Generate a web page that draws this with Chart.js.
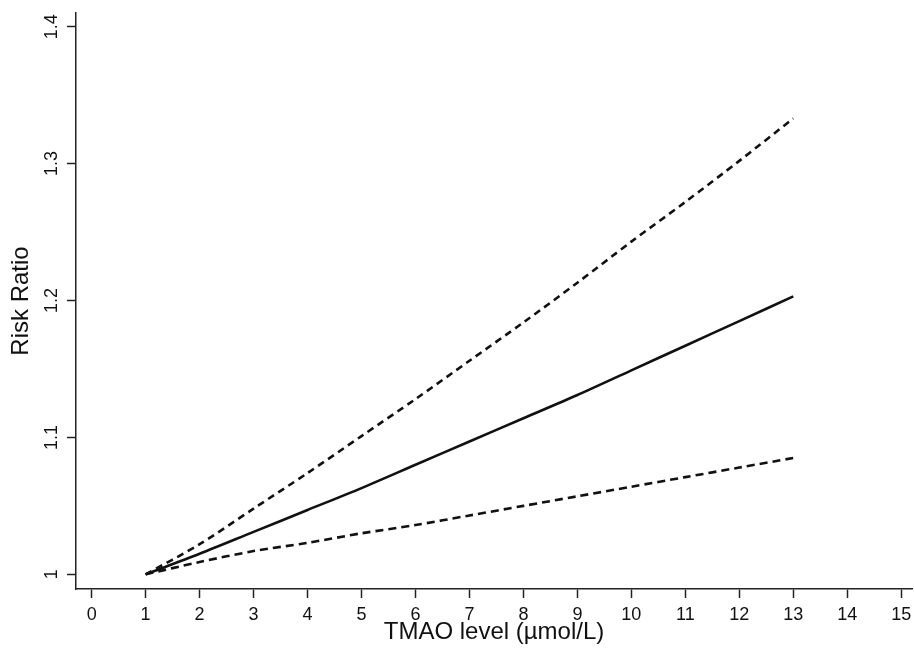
<!DOCTYPE html>
<html>
<head>
<meta charset="utf-8">
<script src="https://cdn.jsdelivr.net/npm/chart.js@4/dist/chart.umd.min.js"></script>
<style>
  html, body { margin: 0; padding: 0; background: #fff; }
  #wrap { width: 914px; height: 652px; position: relative; }
</style>
</head>
<body>
<div id="wrap"><canvas id="rrChart"></canvas></div>
<script>
// TMAO level (umol/L) vs risk ratio with 95% CI
const tmao = [1, 2, 3, 4, 5, 6, 7, 8, 9, 10, 11, 12, 13];
const riskRatio = [1.000, 1.015, 1.031, 1.047, 1.063, 1.080, 1.097, 1.114, 1.131, 1.149, 1.167, 1.185, 1.203];
const upperCI = [1.000, 1.022, 1.048, 1.074, 1.101, 1.128, 1.156, 1.184, 1.213, 1.243, 1.272, 1.302, 1.333];
const lowerCI = [1.000, 1.009, 1.017, 1.023, 1.030, 1.036, 1.043, 1.050, 1.057, 1.064, 1.071, 1.078, 1.085];

const xTicks = [0, 1, 2, 3, 4, 5, 6, 7, 8, 9, 10, 11, 12, 13, 14, 15];
const yTicks = [1, 1.1, 1.2, 1.3, 1.4];
const yTickLabels = ['1', '1.1', '1.2', '1.3', '1.4'];

const toPoints = (ys) => tmao.map((x, i) => ({ x: x, y: ys[i] }));

const ink = '#111';
const tickFont = { family: 'Liberation Sans, Arial, sans-serif', size: 18 };
const titleFont = { family: 'Liberation Sans, Arial, sans-serif', size: 24 };

new Chart(document.getElementById('rrChart'), {
    type: 'line',
    data: {
        datasets: [
            {
                label: 'Upper 95% CI',
                data: toPoints(upperCI),
                borderColor: ink,
                borderWidth: 2.6,
                borderDash: [7, 5],
                pointRadius: 0,
                tension: 0.3
            },
            {
                label: 'Risk Ratio',
                data: toPoints(riskRatio),
                borderColor: ink,
                borderWidth: 2.6,
                pointRadius: 0,
                tension: 0.3
            },
            {
                label: 'Lower 95% CI',
                data: toPoints(lowerCI),
                borderColor: ink,
                borderWidth: 2.6,
                borderDash: [8, 5],
                pointRadius: 0,
                tension: 0.3
            }
        ]
    },
    options: {
        responsive: true,
        maintainAspectRatio: false,
        animation: false,
        layout: { padding: { top: 13, right: 2, left: 0, bottom: 0 } },
        plugins: {
            legend: { display: false },
            tooltip: { enabled: false }
        },
        scales: {
            x: {
                type: 'linear',
                min: -0.29,
                max: 15.2,
                afterBuildTicks: (scale) => { scale.ticks = xTicks.map(v => ({ value: v })); },
                afterFit: (scale) => {
                    scale.height = 63;
                    scale.paddingLeft = 0;
                    scale.paddingRight = 0;
                },
                ticks: {
                    color: ink,
                    font: tickFont,
                    padding: 6,
                    maxRotation: 0,
                    autoSkip: false,
                    callback: (v) => String(v)
                },
                grid: {
                    display: true,
                    drawOnChartArea: false,
                    drawTicks: true,
                    tickLength: 9,
                    tickWidth: 1.5,
                    tickColor: '#222'
                },
                border: { display: true, color: '#222', width: 1.5 },
                title: {
                    display: true,
                    text: 'TMAO level (\u00b5mol/L)',
                    color: ink,
                    font: titleFont,
                    padding: { top: 0, bottom: 5 }
                }
            },
            y: {
                type: 'linear',
                min: 0.9893,
                max: 1.41,
                afterBuildTicks: (scale) => { scale.ticks = yTicks.map(v => ({ value: v })); },
                afterFit: (scale) => {
                    scale.width = 76;
                    scale.paddingTop = 0;
                    scale.paddingBottom = 0;
                },
                ticks: {
                    color: ink,
                    font: tickFont,
                    padding: 2,
                    crossAlign: 'center',
                    minRotation: 90,
                    maxRotation: 90,
                    autoSkip: false,
                    callback: (v, i) => yTickLabels[i]
                },
                grid: {
                    display: true,
                    drawOnChartArea: false,
                    drawTicks: true,
                    tickLength: 9,
                    tickWidth: 1.5,
                    tickColor: '#222'
                },
                border: { display: true, color: '#222', width: 1.5 },
                title: {
                    display: true,
                    text: 'Risk Ratio',
                    color: ink,
                    font: titleFont,
                    padding: { top: 7, bottom: 0 }
                }
            }
        }
    }
});
</script>
</body>
</html>
